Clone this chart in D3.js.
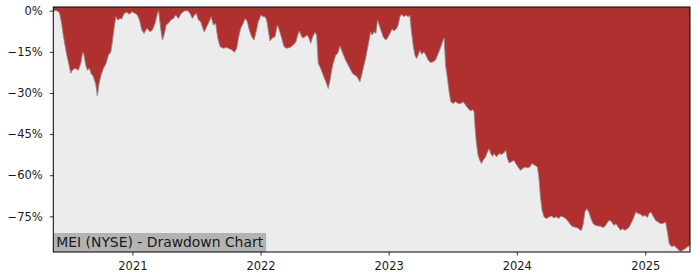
<!DOCTYPE html>
<html>
<head>
<meta charset="utf-8">
<script src="https://cdn.jsdelivr.net/npm/d3@7"></script>
<style>
  body { margin: 0; background: #ffffff; }
  text { font-family: "DejaVu Sans", sans-serif; }
</style>
</head>
<body>
<div id="chart"></div>
<script>
// dates as decimal years, drawdown in percent
var dates = [
  2020.384, 2020.411, 2020.428, 2020.436, 2020.450, 2020.462, 2020.475, 2020.488, 2020.501, 2020.520,
  2020.532, 2020.553, 2020.579, 2020.598, 2020.613, 2020.623, 2020.637, 2020.649, 2020.665, 2020.678,
  2020.696, 2020.715, 2020.727, 2020.740, 2020.756, 2020.774, 2020.795, 2020.813, 2020.832, 2020.844,
  2020.857, 2020.871, 2020.886, 2020.904, 2020.917, 2020.935, 2020.956, 2020.977, 2020.995, 2021.021,
  2021.039, 2021.055, 2021.073, 2021.091, 2021.112, 2021.138, 2021.156, 2021.177, 2021.195, 2021.204,
  2021.224, 2021.234, 2021.250, 2021.263, 2021.281, 2021.299, 2021.320, 2021.338, 2021.359, 2021.380,
  2021.405, 2021.432, 2021.450, 2021.468, 2021.483, 2021.499, 2021.515, 2021.533, 2021.549, 2021.561,
  2021.580, 2021.598, 2021.614, 2021.632, 2021.650, 2021.666, 2021.684, 2021.710, 2021.736, 2021.762,
  2021.780, 2021.795, 2021.814, 2021.827, 2021.845, 2021.865, 2021.879, 2021.897, 2021.912, 2021.931,
  2021.949, 2021.965, 2021.982, 2022.004, 2022.021, 2022.035, 2022.048, 2022.060, 2022.074, 2022.092,
  2022.113, 2022.131, 2022.146, 2022.165, 2022.183, 2022.204, 2022.230, 2022.255, 2022.276, 2022.290,
  2022.302, 2022.315, 2022.329, 2022.347, 2022.365, 2022.378, 2022.391, 2022.407, 2022.425, 2022.438,
  2022.450, 2022.469, 2022.489, 2022.510, 2022.528, 2022.542, 2022.555, 2022.567, 2022.586, 2022.602,
  2022.620, 2022.637, 2022.658, 2022.676, 2022.697, 2022.718, 2022.736, 2022.754, 2022.775, 2022.789,
  2022.801, 2022.817, 2022.832, 2022.848, 2022.859, 2022.871, 2022.887, 2022.900, 2022.913, 2022.926,
  2022.939, 2022.957, 2022.976, 2022.991, 2023.009, 2023.027, 2023.043, 2023.062, 2023.074, 2023.087,
  2023.101, 2023.119, 2023.134, 2023.152, 2023.165, 2023.178, 2023.191, 2023.204, 2023.218, 2023.230,
  2023.243, 2023.257, 2023.275, 2023.290, 2023.308, 2023.327, 2023.347, 2023.366, 2023.381, 2023.397,
  2023.412, 2023.425, 2023.433, 2023.444, 2023.459, 2023.472, 2023.485, 2023.503, 2023.522, 2023.542,
  2023.563, 2023.581, 2023.600, 2023.620, 2023.641, 2023.654, 2023.667, 2023.674, 2023.685, 2023.698,
  2023.711, 2023.724, 2023.737, 2023.756, 2023.771, 2023.784, 2023.797, 2023.810, 2023.823, 2023.841,
  2023.862, 2023.880, 2023.898, 2023.914, 2023.927, 2023.940, 2023.958, 2023.976, 2023.992, 2024.010,
  2024.028, 2024.044, 2024.062, 2024.080, 2024.101, 2024.119, 2024.140, 2024.161, 2024.174, 2024.184,
  2024.197, 2024.212, 2024.231, 2024.251, 2024.270, 2024.288, 2024.309, 2024.327, 2024.343, 2024.361,
  2024.379, 2024.395, 2024.413, 2024.431, 2024.452, 2024.473, 2024.487, 2024.504, 2024.517, 2024.530,
  2024.543, 2024.561, 2024.577, 2024.595, 2024.613, 2024.634, 2024.655, 2024.673, 2024.691, 2024.707,
  2024.722, 2024.738, 2024.756, 2024.772, 2024.789, 2024.808, 2024.824, 2024.842, 2024.860, 2024.875,
  2024.894, 2024.912, 2024.927, 2024.945, 2024.964, 2024.980, 2024.997, 2025.016, 2025.029, 2025.044,
  2025.062, 2025.081, 2025.101, 2025.122, 2025.140, 2025.159, 2025.175, 2025.187, 2025.206, 2025.224,
  2025.239, 2025.257, 2025.276, 2025.292, 2025.310, 2025.328, 2025.349
];
var drawdown = [
  0, 0, -0.5, -1.5, -5, -9, -12.5, -16, -18.6, -22.8,
  -21.7, -21, -21.7, -19.2, -15, -16.2, -19.8, -21.7, -21, -22.9,
  -24, -27, -31, -26.5, -23.5, -21, -19.2, -16.2, -15, -11.3,
  -6.4, -2.2, -3.4, -2.8, -3, -1, -0.6, -1.3, -0.4, -1,
  -1.6, -3.4, -7, -8.3, -6.4, -7.7, -7, -4.6, -1, 0,
  -7.7, -10.7, -8.3, -5.2, -4.6, -3.4, -2.8, -1.6, -2.8, -1,
  -0.1, 0, -1, -2.8, -1.6, -1, -3.4, -4, -6.4, -7.7,
  -5.8, -4, -2.2, -5.2, -4.6, -10, -13.1, -13.7, -13.4, -14,
  -14.4, -15.2, -13.7, -10, -6.4, -4.6, -2.8, -4, -7, -9.5,
  -10.7, -7.7, -4, -1.6, -2.2, -2.2, -3.4, -7, -11, -10,
  -9.5, -5.2, -7, -10, -13.1, -13.7, -13.4, -12.5, -11.3, -8.9,
  -7.4, -8.9, -10, -9.5, -8.9, -10, -11.9, -9.5, -7.9, -8.9,
  -19.2, -21, -23.5, -25.9, -28.4, -25.3, -21.7, -19.2, -16.2, -15.6,
  -12.8, -15, -17.4, -19.2, -21, -22.9, -23.5, -24.1, -25.9, -23.5,
  -21, -18, -14.4, -10.5, -7.7, -8.9, -7.7, -8.3, -3.4, -5.2,
  -7, -9.5, -10.7, -10, -8.3, -6.7, -7.4, -6.4, -5.2, -2.2,
  -1.3, -2.2, -1.6, -2.2, -1.6, -7.7, -12.5, -16.2, -17.4, -16.2,
  -14.4, -15.9, -15, -16.2, -18, -18.9, -18.6, -18, -16.2, -14.4,
  -12.5, -10.7, -10, -19.8, -24.7, -29.6, -33.2, -33.8, -33.2, -33.8,
  -33.8, -33.2, -34.4, -35.7, -36.6, -36, -36.9, -42.4, -48.4, -52.7,
  -54.5, -55.7, -54.5, -53.3, -51.5, -50.3, -52.1, -53.1, -52.1, -53.3,
  -52.1, -52.4, -51.9, -50.9, -53.9, -55.5, -55.1, -54.5, -55.7, -57,
  -58.2, -57.6, -57, -57.3, -57, -55.7, -56.4, -57, -61.8, -67.9,
  -72.8, -75.2, -75.8, -75.2, -74.9, -75.5, -75.2, -75.8, -74.9, -75.2,
  -75.8, -76.5, -77.7, -78.7, -78.9, -79.2, -79.8, -80.1, -77.7, -73.4,
  -72.2, -73.4, -75.8, -77.7, -78.3, -78.5, -78.6, -79.1, -78.3, -77.1,
  -76.3, -77.1, -78.3, -77.7, -78.9, -80.1, -79.5, -80.1, -79.5, -78.9,
  -77.1, -75.2, -73.4, -74, -74.2, -75, -74.6, -75.4, -74, -73.4,
  -75, -76.5, -77.1, -77.7, -77.5, -77.1, -81.3, -85, -86, -85.7,
  -86.2, -87.2, -87.7, -87.4, -86.8, -86.2, -85.5
];
var yTicks = [0, -15, -30, -45, -60, -75];
var xTickYears = [2021, 2022, 2023, 2024, 2025];
var title = "MEI (NYSE) - Drawdown Chart";

// decimal year -> Date
function yearToDate(t) {
  var yr = Math.floor(t);
  var start = new Date(yr, 0, 1), end = new Date(yr + 1, 0, 1);
  return new Date(+start + (t - yr) * (end - start));
}

var data = dates.map(function(t, i) {
  return {date: yearToDate(t), dd: drawdown[i]};
});

var W = 700, H = 280;
var margin = {top: 7, right: 10, bottom: 28, left: 53.3},
    width = W - margin.left - margin.right,
    height = H - margin.top - margin.bottom;

var svg = d3.select("#chart")
  .append("svg")
    .attr("width", W)
    .attr("height", H);

var g = svg.append("g")
    .attr("transform", "translate(" + margin.left + "," + margin.top + ")");

var x = d3.scaleTime()
    .domain([data[0].date, data[data.length - 1].date])
    .range([0, width]);

var y = d3.scaleLinear()
    .domain([-88, 1.35])
    .range([height, 0]);

// plot background
g.append("rect")
    .attr("width", width)
    .attr("height", height)
    .style("fill", "#ececec");

// drawdown fill: from top of the axes down to the curve
var area = d3.area()
    .x(function(d) { return x(d.date); })
    .y0(0)
    .y1(function(d) { return y(d.dd); });

g.append("path")
    .datum(data)
    .attr("d", area)
    .style("fill", "#b03030");

g.append("path")
    .datum(data)
    .attr("d", d3.line()
      .x(function(d) { return x(d.date); })
      .y(function(d) { return y(d.dd); }))
    .style("fill", "none")
    .style("stroke", "#8a8a8a")
    .style("stroke-width", 0.9);

// title box at the bottom-left
var tb = g.append("g");
var tt = tb.append("text")
    .attr("x", 3)
    .attr("y", height - 5.5)
    .style("font-size", "13.9px")
    .style("fill", "#1a1a1a")
    .text(title);
var tw = tt.node().getComputedTextLength();
tb.insert("rect", "text")
    .attr("x", 0)
    .attr("y", height - 19)
    .attr("width", tw + 6)
    .attr("height", 19)
    .style("fill", "#b3b3b3");

// axes
var yAxis = g.append("g")
    .call(d3.axisLeft(y)
      .tickValues(yTicks)
      .tickSize(3.5)
      .tickPadding(7)
      .tickFormat(function(d) { return (d < 0 ? "\u2212" + Math.abs(d) : d) + "%"; }));

var xAxis = g.append("g")
    .attr("transform", "translate(0," + height + ")")
    .call(d3.axisBottom(x)
      .tickValues(xTickYears.map(function(yr) { return new Date(yr, 0, 1); }))
      .tickSize(3.5)
      .tickPadding(6)
      .tickFormat(d3.timeFormat("%Y")));

[xAxis, yAxis].forEach(function(a) {
  a.select(".domain").remove();
  a.selectAll("text")
    .style("font-size", "11.5px")
    .style("fill", "#1a1a1a")
    .style("font-family", "DejaVu Sans");
  a.selectAll("line").style("stroke", "#000").style("stroke-width", 0.8);
});

// frame
g.append("rect")
    .attr("width", width)
    .attr("height", height)
    .style("fill", "none")
    .style("stroke", "#000")
    .style("stroke-width", 1);
</script>
</body>
</html>
